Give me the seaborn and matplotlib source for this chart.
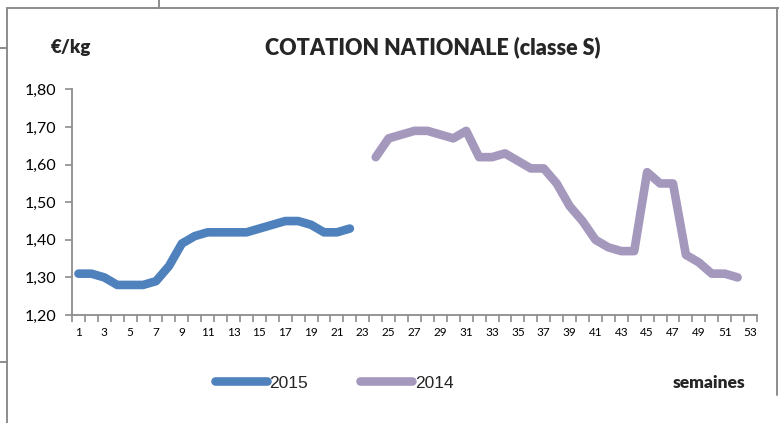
import pandas as pd
import seaborn as sns
import matplotlib.pyplot as plt
from matplotlib.lines import Line2D
from matplotlib.ticker import FuncFormatter, MultipleLocator

# Weekly national price (classe S), €/kg
semaines_2015 = list(range(1, 23))
prix_2015 = [1.31, 1.31, 1.30, 1.28, 1.28, 1.28, 1.29, 1.33, 1.39, 1.41, 1.42,
             1.42, 1.42, 1.42, 1.43, 1.44, 1.45, 1.45, 1.44, 1.42, 1.42, 1.43]
semaines_2014 = list(range(24, 53))
prix_2014 = [1.62, 1.67, 1.68, 1.69, 1.69, 1.68, 1.67, 1.69, 1.62, 1.62, 1.63,
             1.61, 1.59, 1.59, 1.55, 1.49, 1.45, 1.40, 1.38, 1.37, 1.37, 1.58,
             1.55, 1.55, 1.36, 1.34, 1.31, 1.31, 1.30]
annees = ["2015", "2014"]
couleurs = {"2015": "#4F81BD", "2014": "#A598BD"}

df = pd.concat([
    pd.DataFrame({"semaine": semaines_2015, "prix": prix_2015, "annee": "2015"}),
    pd.DataFrame({"semaine": semaines_2014, "prix": prix_2014, "annee": "2014"}),
])

sns.set_theme(style="white")
plt.rcParams["font.family"] = ["Lato", "DejaVu Sans"]

W, H = 779, 423
fig = plt.figure(figsize=(W / 100, H / 100), dpi=100)


def px(x, y):
    return x / W, 1 - y / H


ax = fig.add_axes([72 / W, 1 - 315 / H, 685 / W, 225.5 / H])

sns.lineplot(data=df, x="semaine", y="prix", hue="annee", hue_order=annees,
             palette=couleurs, linewidth=6.2, legend=False, ax=ax,
             solid_capstyle="round", solid_joinstyle="round")

ax.set_xlim(0.5, 53.5)
ax.set_ylim(1.20, 1.80)
ax.set_xlabel("")
ax.set_ylabel("")

grey = "#8C8C8C"
for s in ["top", "right"]:
    ax.spines[s].set_visible(False)
for s in ["left", "bottom"]:
    ax.spines[s].set_color(grey)
    ax.spines[s].set_linewidth(1.3)

ax.set_xticks(range(1, 54, 2))
ax.xaxis.set_minor_locator(MultipleLocator(1, offset=0.5))
ax.tick_params(axis="x", which="major", length=0, labelsize=8.5, pad=9, colors="black")
ax.tick_params(axis="x", which="minor", length=5, width=1.2, color=grey, direction="out", bottom=True)
ax.yaxis.set_major_locator(MultipleLocator(0.1))
ax.yaxis.set_major_formatter(FuncFormatter(lambda v, p: f"{v:.2f}".replace(".", ",")))
ax.tick_params(axis="y", length=5, width=1.2, color=grey, direction="out", left=True,
               labelsize=11.5, pad=6, labelcolor="black")

# texts
fig.text(*px(433, 47), "COTATION NATIONALE (classe S)", ha="center", va="center",
         fontsize=15.5, fontweight="heavy")
fig.text(*px(71, 47), "€/kg", ha="center", va="center", fontsize=13.5, fontweight="heavy")
fig.text(*px(709, 383), "semaines", ha="center", va="center", fontsize=12.5, fontweight="heavy")

handles = [Line2D([], [], color=couleurs[a], linewidth=6.2, solid_capstyle="round") for a in annees]
fig.legend(handles, annees, loc="center", bbox_to_anchor=px(334, 383), ncol=2,
           frameon=False, handlelength=3.0, handletextpad=0.15, columnspacing=3.0,
           prop={"family": "Liberation Sans", "size": 12.5})

# spreadsheet frame lines
frame = [((7, 8), (7, 423)), ((7, 8), (779, 8)), ((777, 8), (777, 395)),
         ((159, 0), (159, 8)), ((0, 48), (7, 48)), ((0, 362), (7, 362))]
for (x0, y0), (x1, y1) in frame:
    a, b = px(x0, y0)
    c, d = px(x1, y1)
    fig.add_artist(Line2D([a, c], [b, d], transform=fig.transFigure, color=grey, linewidth=1.4))

fig.savefig("out.png", dpi=100)
